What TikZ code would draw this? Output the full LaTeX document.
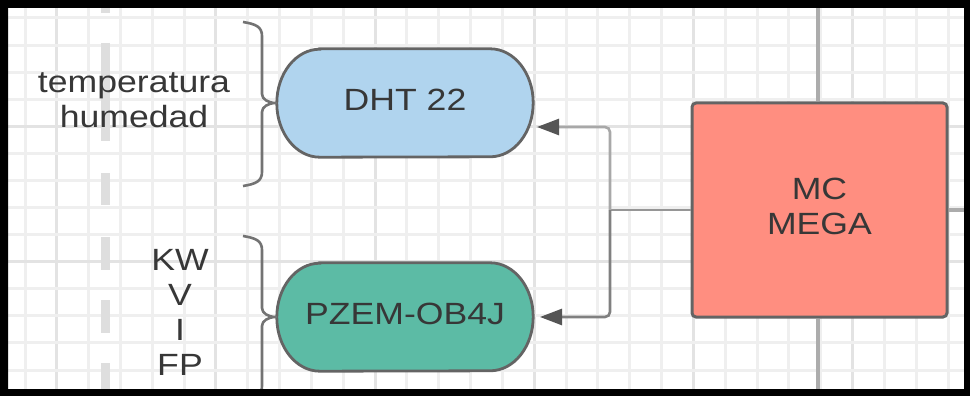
\documentclass[tikz,border=0pt]{standalone}
\usepackage{fontspec}
\setmainfont{Liberation Sans}[FakeStretch=1.16]
\usetikzlibrary{arrows.meta,backgrounds,calc}
\definecolor{gridminor}{RGB}{239,239,239}
\definecolor{gridmajor}{RGB}{227,227,227}
\definecolor{dashgray}{RGB}{222,222,222}
\definecolor{bordergray}{RGB}{100,100,100}
\definecolor{dhtblue}{RGB}{176,212,238}
\definecolor{pzemteal}{RGB}{92,187,165}
\definecolor{mcsalmon}{RGB}{255,142,128}
\definecolor{linegray}{RGB}{150,150,150}
\definecolor{lineup}{RGB}{168,168,168}
\definecolor{linedown}{RGB}{128,128,128}
\definecolor{outgray}{RGB}{172,172,172}
\definecolor{tipgray}{RGB}{85,85,85}
\definecolor{bracegray}{RGB}{115,115,115}
\definecolor{txtgray}{RGB}{55,55,55}
\newcommand{\drawpill}[2]{%
  \draw[pillline,fill=#2] ($(#1.north west)+(43pt,0pt)$) -- ($(#1.north east)+(-43pt,0pt)$)
    arc[start angle=90,end angle=-90,x radius=43pt,y radius=54pt]
    -- ($(#1.south west)+(43pt,0pt)$)
    arc[start angle=270,end angle=90,x radius=43pt,y radius=54pt] -- cycle;}
\tikzset{
  bigfont/.style={font=\fontsize{30.7}{35}\selectfont, text=txtgray},
  pillnode/.style={bigfont, minimum width=256pt, minimum height=108pt, inner sep=0pt,
    text height=22pt, text depth=7pt},
  pillline/.style={draw=bordergray, line width=2.8pt},
  mcbox/.style={bigfont, draw=bordergray, line width=3pt, fill=mcsalmon, rounded corners=4pt,
    minimum width=255pt, minimum height=214pt, align=center, inner sep=0pt},
  labeltext/.style={bigfont, align=center, inner sep=0pt},
  conn/.style={line width=2.6pt},
  tipped/.style={-{Triangle[length=22pt,width=16pt,color=tipgray]}},
  outline/.style={draw=outgray, line width=4pt},
  bracestyle/.style={draw=bracegray, line width=2.6pt, line join=round},
  gridline/.style={line width=3pt},
  dashseg/.style={draw=dashgray, line width=9pt},
}
\begin{document}
\begin{tikzpicture}[x=1pt,y=-1pt]
\useasboundingbox (0,0) rectangle (970,396);
% background and grid
\begin{scope}[on background layer]
  \fill[white] (0,0) rectangle (970,396);
  \begin{scope}
    \clip (8,8) rectangle (964,389);
    \foreach \k in {0,...,29}{
      \pgfmathtruncatemacro{\m}{mod(\k,5)}
      \ifnum\m=1
        \draw[gridline,gridmajor] ({25+31.83*\k},0) -- ({25+31.83*\k},396);
      \else
        \draw[gridline,gridminor] ({25+31.83*\k},0) -- ({25+31.83*\k},396);
      \fi
    }
    \foreach \k in {0,...,13}{
      \pgfmathtruncatemacro{\m}{mod(\k,5)}
      \ifnum\m=4
        \draw[gridline,gridmajor] (0,{18+27.08*\k}) -- (970,{18+27.08*\k});
      \else
        \draw[gridline,gridminor] (0,{18+27.08*\k}) -- (970,{18+27.08*\k});
      \fi
    }
    \foreach \a/\b in {0/13, 43/141, 173/205, 237/270, 300/333, 363/400}{
      \draw[dashseg] (105,\a) -- (105,\b);
    }
  \end{scope}
\end{scope}

% nodes
\node[pillnode] (dht) at (405,103) {DHT 22};
\node[pillnode] (pzem) at (405,317) {PZEM-OB4J};
\node[mcbox] (mc) at (819.5,210) {MC\\MEGA\rule[-7pt]{0pt}{7pt}};
\begin{scope}[on background layer]
  \drawpill{dht}{dhtblue}
  \drawpill{pzem}{pzemteal}
\end{scope}

% labels
\node[labeltext] (lblth) at (134,100.5) {temperatura\\humedad};
\node[labeltext] (lblkw) at (180,312.5) {\fontsize{30.7}{35.7}\selectfont KW\\V\\I\\FP};

% connectors
\coordinate (fork) at (610,210);
\coordinate (dhtin) at (537,127);
\coordinate (pzemin) at (540,317);
\draw[conn, linegray] (mc.west) -- (fork);
\draw[conn, lineup, tipped, rounded corners=5pt] (fork) |- (dhtin);
\draw[conn, linedown, tipped, rounded corners=5pt] (fork) |- (pzemin);

% lines leaving the view
\coordinate (topedge) at (818,0);
\coordinate (botedge) at (818,396);
\coordinate (rightedge) at (970,210);
\draw[outline] (mc.north -| topedge) -- (topedge);
\draw[outline] (mc.south -| botedge) -- (botedge);
\draw[outline] ($(mc.south west)+(7pt,0pt)$) -- ($(mc.south west)+(7pt,0pt)$ |- botedge);
\draw[outline] (mc.east) -- (rightedge);

% braces
\draw[bracestyle] (243,22) .. controls (256,24) and (262,27) .. (262,36) -- (262,94)
  .. controls (262,99) and (268,103) .. (276,103)
  .. controls (268,103) and (262,107) .. (262,112) -- (262,172)
  .. controls (262,181) and (256,184) .. (243,186);
\draw[bracestyle] (243,236) .. controls (256,238) and (262,241) .. (262,250) -- (262,308)
  .. controls (262,313) and (268,317) .. (276,317)
  .. controls (268,317) and (262,321) .. (262,326) -- (262,386)
  .. controls (262,395) and (256,398) .. (243,400);

% frame
\fill[black, even odd rule] (0,0) rectangle (970,396) (8,8) rectangle (964,389);
\end{tikzpicture}
\end{document}
